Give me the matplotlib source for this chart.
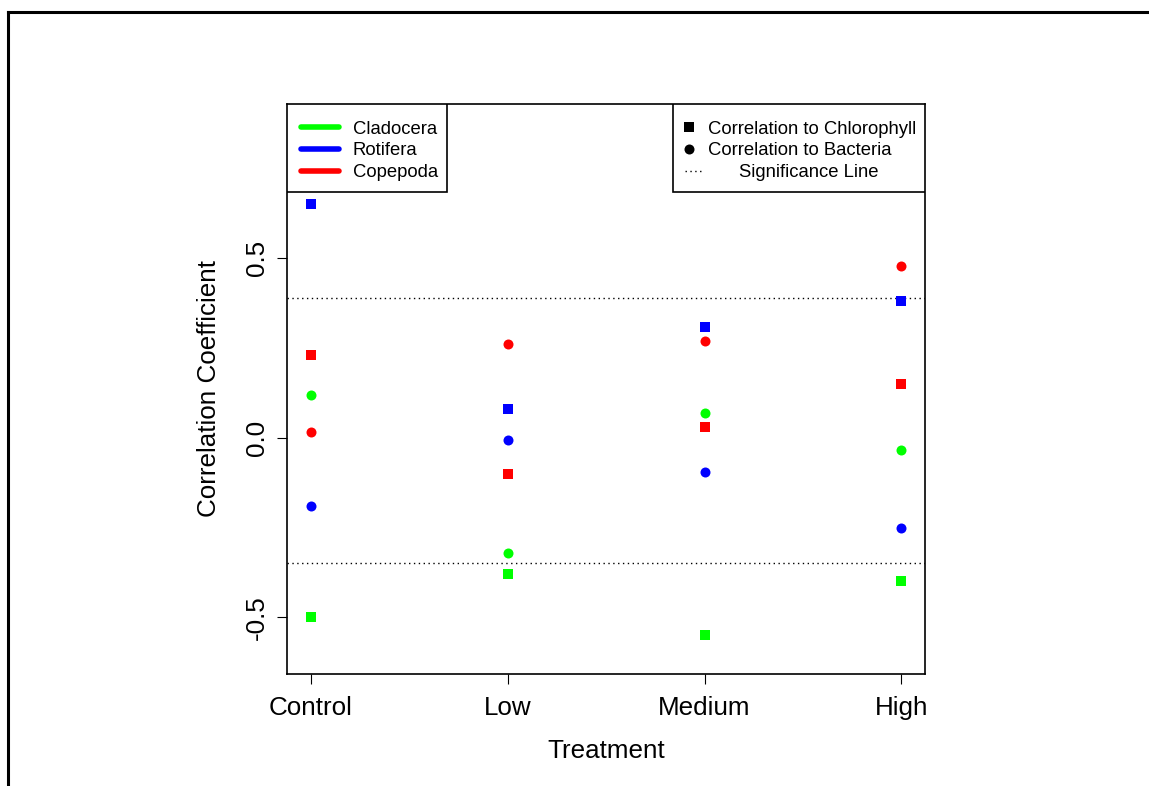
import matplotlib
matplotlib.use('Agg')
import matplotlib.pyplot as plt
from matplotlib.lines import Line2D
from matplotlib.patches import Rectangle

plt.rcParams['font.family'] = ['Liberation Sans', 'DejaVu Sans']

treatments = ['Control', 'Low', 'Medium', 'High']
groups = ['Cladocera', 'Rotifera', 'Copepoda']
group_colors = ['#00ff00', '#0000ff', '#ff0000']

# correlation of each zooplankton group to chlorophyll, per treatment
chl_cladocera = [-0.50, -0.38, -0.55, -0.40]
chl_rotifera = [0.65, 0.08, 0.31, 0.38]
chl_copepoda = [0.23, -0.10, 0.03, 0.15]

# correlation of each group to bacteria
bac_cladocera = [0.12, -0.32, 0.07, -0.035]
bac_rotifera = [-0.19, -0.005, -0.095, -0.25]
bac_copepoda = [0.016, 0.26, 0.27, 0.48]

sig_upper = 0.39
sig_lower = -0.35

y_ticks = [-0.5, 0.0, 0.5]
y_tick_labels = ['-0.5', '0.0', '0.5']

fig = plt.figure(figsize=(11.49, 7.86), dpi=100)
ax = fig.add_axes([0.2498, 0.1425, 0.5553, 0.7252])

xs = range(1, len(treatments) + 1)
chl = [chl_cladocera, chl_rotifera, chl_copepoda]
bac = [bac_cladocera, bac_rotifera, bac_copepoda]
sq_ms, dot_ms = 7.0, 7.2
for i in range(len(groups)):
    ax.plot(xs, chl[i], 's', color=group_colors[i], ms=sq_ms, mew=0, zorder=3)
    ax.plot(xs, bac[i], 'o', color=group_colors[i], ms=dot_ms, mew=0, zorder=3)

dots = (0, (1, 2.5))
ax.axhline(sig_upper, color='black', lw=1, ls=dots, zorder=2)
ax.axhline(sig_lower, color='black', lw=1, ls=dots, zorder=2)

ax.set_xlim(0.88, 4.12)
ax.set_ylim(-0.658, 0.93)
ax.set_xticks(list(xs))
ax.set_xticklabels(treatments)
ax.set_yticks(y_ticks)
ax.set_yticklabels(y_tick_labels, rotation=90, va='center')
ax.tick_params(axis='both', direction='out', length=7.2, width=0.8, labelsize=18.7)
ax.tick_params(axis='x', pad=8.6)
ax.tick_params(axis='y', pad=6)
for s in ax.spines.values():
    s.set_linewidth(1.2)

ax.set_xlabel('Treatment', fontsize=18.7, labelpad=13.5)
ax.set_ylabel('Correlation Coefficient', fontsize=18.7, labelpad=17)

# group legend (top left)
ax.add_patch(Rectangle((0, 0.8456), 0.2508, 0.1544, transform=ax.transAxes,
                       fill=True, facecolor='white', edgecolor='black', lw=1.2, zorder=4))
rows = [0.9596, 0.9219, 0.8833]
for name, col, y in zip(groups, group_colors, rows):
    ax.add_line(Line2D([0.0219, 0.0815], [y, y], transform=ax.transAxes,
                       color=col, lw=4, solid_capstyle='round', zorder=5))
    ax.text(0.1034, y, name, transform=ax.transAxes, fontsize=13.3,
            va='center_baseline', ha='left', zorder=5)

# symbol legend (top right)
ax.add_patch(Rectangle((0.605, 0.8456), 0.395, 0.1544, transform=ax.transAxes,
                       fill=True, facecolor='white', edgecolor='black', lw=1.2, zorder=4))
ax.plot([0.630], [rows[0]], 's', color='black', ms=sq_ms, mew=0,
        transform=ax.transAxes, zorder=5)
ax.text(0.660, rows[0], 'Correlation to Chlorophyll', transform=ax.transAxes,
        fontsize=13.3, va='center_baseline', ha='left', zorder=5)
ax.plot([0.630], [rows[1]], 'o', color='black', ms=dot_ms, mew=0,
        transform=ax.transAxes, zorder=5)
ax.text(0.660, rows[1], 'Correlation to Bacteria', transform=ax.transAxes,
        fontsize=13.3, va='center_baseline', ha='left', zorder=5)
ax.add_line(Line2D([0.624, 0.653], [rows[2], rows[2]], transform=ax.transAxes,
                   color='black', lw=1, ls=dots, zorder=5))
ax.text(0.7085, rows[2], 'Significance Line', transform=ax.transAxes,
        fontsize=13.3, va='center_baseline', ha='left', zorder=5)

# outer frame, top and left edges
fig.add_artist(Line2D([0.007, 1.0], [0.9847, 0.9847], color='black', lw=2.2))
fig.add_artist(Line2D([0.007, 0.007], [0.0, 0.9847], color='black', lw=2.2))

fig.savefig('out.png', dpi=100)
